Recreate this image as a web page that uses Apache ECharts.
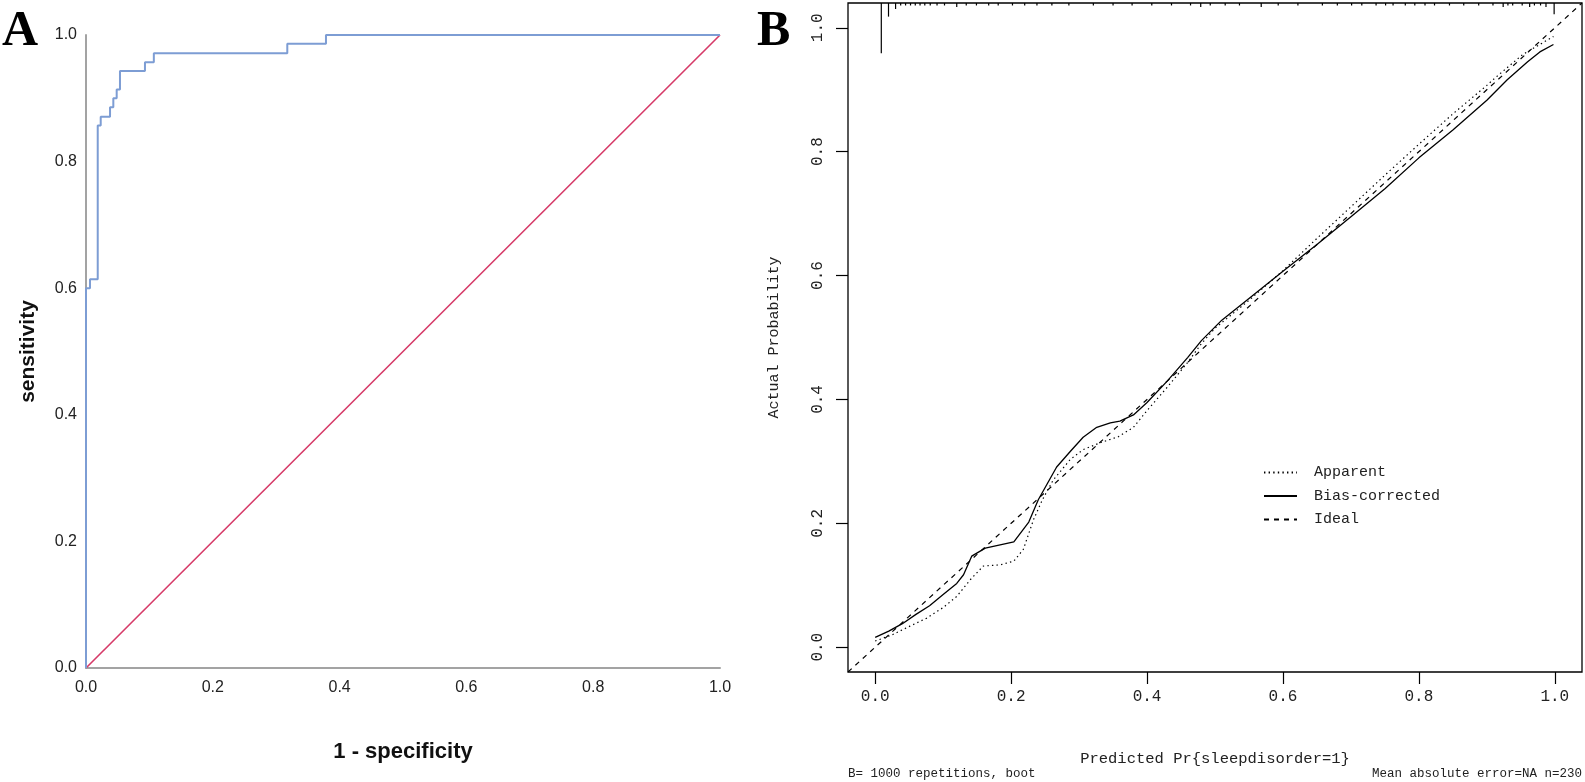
<!DOCTYPE html>
<html><head><meta charset="utf-8">
<script src="https://cdn.jsdelivr.net/npm/echarts@6/dist/echarts.min.js"></script>
<style>html,body{margin:0;padding:0;background:#fff}#c{width:1585px;height:782px}</style>
</head><body><div id="c"></div>
<script>
// ---------- Panel A : ROC ----------
const tickValues = [0, 0.2, 0.4, 0.6, 0.8, 1.0];
const rocFpr = [0, 0.0063, 0.0185, 0.0232, 0.0379, 0.0431, 0.0484, 0.0536, 0.093, 0.107, 0.3175, 0.3785, 1];
const rocTpr = [0, 0.6, 0.614, 0.857, 0.871, 0.886, 0.9, 0.914, 0.943, 0.957, 0.971, 0.986, 1];
const refX = [0, 1];
const refY = [0, 1];

// ---------- Panel B : calibration ----------
const idealX = [-0.04, 1.04];
const idealY = [-0.04, 1.04];
const biasX = [0.0, 0.02, 0.04, 0.06, 0.08, 0.10, 0.12, 0.13, 0.142, 0.162, 0.204, 0.226, 0.24, 0.267, 0.287, 0.306, 0.326, 0.346, 0.36, 0.38, 0.40, 0.43, 0.46, 0.48, 0.51, 0.55, 0.60, 0.65, 0.70, 0.75, 0.80, 0.85, 0.90, 0.93, 0.96, 0.978, 0.998];
const biasY = [0.016, 0.026, 0.038, 0.053, 0.067, 0.085, 0.103, 0.117, 0.147, 0.160, 0.170, 0.202, 0.238, 0.291, 0.316, 0.339, 0.355, 0.362, 0.365, 0.375, 0.395, 0.43, 0.468, 0.495, 0.528, 0.563, 0.607, 0.65, 0.695, 0.74, 0.79, 0.835, 0.883, 0.916, 0.945, 0.961, 0.973];
const appX = [0.0, 0.025, 0.051, 0.076, 0.10, 0.12, 0.14, 0.159, 0.184, 0.204, 0.218, 0.233, 0.246, 0.262, 0.287, 0.306, 0.331, 0.358, 0.38, 0.40, 0.43, 0.46, 0.48, 0.50, 0.55, 0.60, 0.65, 0.70, 0.75, 0.80, 0.85, 0.90, 0.912, 0.953, 0.998];
const appY = [0.010, 0.020, 0.034, 0.047, 0.064, 0.082, 0.109, 0.131, 0.133, 0.139, 0.158, 0.206, 0.238, 0.27, 0.303, 0.319, 0.33, 0.34, 0.355, 0.382, 0.42, 0.46, 0.49, 0.515, 0.56, 0.608, 0.66, 0.711, 0.762, 0.812, 0.861, 0.907, 0.919, 0.957, 0.986];
// spike histogram of predicted probabilities (position, spike length in probability units)
const rugX = [0.009, 0.0196, 0.030, 0.0375, 0.0447, 0.052, 0.059, 0.066, 0.073, 0.081, 0.091, 0.102, 0.12, 0.134, 0.149, 0.167, 0.181, 0.202, 0.22, 0.238, 0.26, 0.285, 0.321, 0.35, 0.378, 0.407, 0.436, 0.464, 0.479, 0.493, 0.515, 0.536, 0.568, 0.593, 0.622, 0.658, 0.68, 0.701, 0.716, 0.737, 0.751, 0.762, 0.78, 0.794, 0.809, 0.823, 0.845, 0.866, 0.888, 0.909, 0.924, 0.931, 0.938, 0.952, 0.963, 0.97, 0.979, 0.987, 0.999];
const rugH = [0.081, 0.022, 0.0097, 0.004, 0.004, 0.004, 0.004, 0.004, 0.004, 0.004, 0.004, 0.004, 0.0065, 0.004, 0.004, 0.004, 0.004, 0.004, 0.004, 0.004, 0.004, 0.004, 0.004, 0.004, 0.004, 0.004, 0.004, 0.004, 0.0065, 0.004, 0.004, 0.004, 0.0065, 0.004, 0.004, 0.004, 0.004, 0.004, 0.004, 0.004, 0.004, 0.004, 0.004, 0.004, 0.004, 0.004, 0.004, 0.004, 0.004, 0.004, 0.0065, 0.004, 0.004, 0.004, 0.0065, 0.004, 0.004, 0.0065, 0.018];

const zip = (a, b) => a.map((v, i) => [v, b[i]]);
const monoFont = 'Liberation Mono';
const fmt1 = v => Number(v).toFixed(1);
const hiddenSym = {color: '#000', opacity: 0};

const chart = echarts.init(document.getElementById('c'), null, {renderer: 'canvas'});
chart.setOption({
  animation: false,
  backgroundColor: '#fff',
  grid: [
    {left: 86, top: 35, width: 634, height: 633, show: false},
    {left: 848, top: 3, width: 734, height: 669, show: true, borderColor: '#000', borderWidth: 1.3, backgroundColor: 'transparent'}
  ],
  xAxis: [
    {gridIndex: 0, type: 'value', min: 0, max: 1, interval: 0.2,
     axisLine: {show: true, onZero: false, lineStyle: {color: '#a3a3a3', width: 2}},
     axisTick: {show: false}, splitLine: {show: false},
     axisLabel: {formatter: fmt1, margin: 12, fontFamily: 'Liberation Sans', fontSize: 16, color: '#222'},
     name: '1 - specificity', nameLocation: 'middle', nameGap: 73,
     nameTextStyle: {fontFamily: 'Liberation Sans', fontWeight: 'bold', fontSize: 22, color: '#111'}},
    {gridIndex: 1, type: 'value', min: -0.04, max: 1.04,
     axisLine: {show: false, onZero: false}, splitLine: {show: false},
     axisTick: {show: true, length: 12, customValues: tickValues, lineStyle: {color: '#000', width: 1.2}},
     axisLabel: {customValues: tickValues, formatter: fmt1, margin: 17, fontFamily: monoFont, fontSize: 16, color: '#222'},
     name: 'Predicted Pr{sleepdisorder=1}', nameLocation: 'middle', nameGap: 79,
     nameTextStyle: {fontFamily: monoFont, fontSize: 15.5, color: '#222'}}
  ],
  yAxis: [
    {gridIndex: 0, type: 'value', min: 0, max: 1, interval: 0.2,
     axisLine: {show: true, onZero: false, lineStyle: {color: '#a3a3a3', width: 2}},
     axisTick: {show: false}, splitLine: {show: false},
     axisLabel: {formatter: fmt1, margin: 9, fontFamily: 'Liberation Sans', fontSize: 16, color: '#222'},
     name: 'sensitivity', nameLocation: 'middle', nameGap: 47, nameRotate: 90,
     nameTextStyle: {fontFamily: 'Liberation Sans', fontWeight: 'bold', fontSize: 21, color: '#111'}},
    {gridIndex: 1, type: 'value', min: -0.04, max: 1.04,
     axisLine: {show: false, onZero: false}, splitLine: {show: false},
     axisTick: {show: true, length: 12, customValues: tickValues, lineStyle: {color: '#000', width: 1.2}},
     axisLabel: {customValues: tickValues, formatter: fmt1, rotate: 90, margin: 22, fontFamily: monoFont, fontSize: 16, color: '#222'},
     name: 'Actual Probability', nameLocation: 'middle', nameGap: 66, nameRotate: 90,
     nameTextStyle: {fontFamily: monoFont, fontSize: 15, color: '#222'}}
  ],
  legend: {
    show: true, orient: 'vertical', left: 1258, top: 460,
    data: ['Apparent', 'Bias-corrected', 'Ideal'],
    itemWidth: 33, itemHeight: 14, itemGap: 8.5,
    itemStyle: {opacity: 0},
    textStyle: {fontFamily: monoFont, fontSize: 15, color: '#222', padding: [0, 0, 0, 12]}
  },
  series: [
    {name: 'reference', type: 'line', xAxisIndex: 0, yAxisIndex: 0, data: zip(refX, refY),
     showSymbol: false, symbol: 'none', lineStyle: {color: '#d63a68', width: 1.6}, z: 3},
    {name: 'ROC', type: 'line', xAxisIndex: 0, yAxisIndex: 0, data: zip(rocFpr, rocTpr), step: 'start',
     showSymbol: false, symbol: 'none', lineStyle: {color: '#7d9dd4', width: 2}, z: 4},
    {name: 'Ideal', type: 'line', xAxisIndex: 1, yAxisIndex: 1, data: zip(idealX, idealY),
     showSymbol: false, symbol: 'none', itemStyle: hiddenSym, lineStyle: {color: '#000', width: 1.2, type: [5, 5]}},
    {name: 'Bias-corrected', type: 'line', xAxisIndex: 1, yAxisIndex: 1, data: zip(biasX, biasY),
     showSymbol: false, symbol: 'none', itemStyle: hiddenSym, lineStyle: {color: '#000', width: 1.3}},
    {name: 'Apparent', type: 'line', xAxisIndex: 1, yAxisIndex: 1, data: zip(appX, appY),
     showSymbol: false, symbol: 'none', itemStyle: hiddenSym, lineStyle: {color: '#000', width: 1.2, type: [1.4, 3.2]}},
    {name: 'spikes', type: 'custom', xAxisIndex: 1, yAxisIndex: 1, data: zip(rugX, rugH),
     renderItem: function (params, api) {
       const x = api.value(0), h = api.value(1);
       const p0 = api.coord([x, 1.04]);
       const p1 = api.coord([x, 1.04 - h]);
       return {type: 'line', shape: {x1: p0[0], y1: p0[1], x2: p1[0], y2: p1[1]},
               style: {stroke: '#000', lineWidth: 1.2}};
     }}
  ],
  graphic: [
    {type: 'text', left: 2, top: 7, style: {text: 'A', font: 'bold 50px "Liberation Serif"', fill: '#000'}},
    {type: 'text', left: 757, top: 7, style: {text: 'B', font: 'bold 50px "Liberation Serif"', fill: '#000'}},
    {type: 'text', left: 848, top: 767, style: {text: 'B= 1000 repetitions, boot', font: '12.5px "Liberation Mono"', fill: '#222'}},
    {type: 'text', right: 3, top: 767, style: {text: 'Mean absolute error=NA n=230', font: '12.5px "Liberation Mono"', fill: '#222'}}
  ]
});
</script>
</body></html>
